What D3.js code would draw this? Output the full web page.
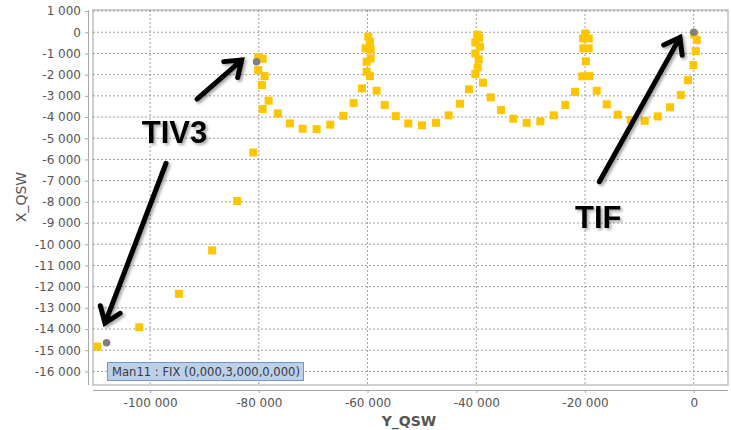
<!DOCTYPE html>
<html>
<head>
<meta charset="utf-8">
<script src="https://cdn.jsdelivr.net/npm/d3@7"></script>
<style>
  body { margin: 0; background: #fff; }
  svg { display: block; }
</style>
</head>
<body>
<svg id="chart" width="731" height="430"></svg>
<script>
// measured points, [Y_QSW, X_QSW]
const squarePoints = [
    [-109700, -14830], [-102000, -13920], [-94700, -12340], [-88580, -10290],
    [-83980, -7960], [-81030, -5670], [-79300, -3620], [-80110, -1780],
    [-80110, -1180], [-79300, -1250], [-78930, -2070], [-79430, -2490],
    [-78200, -3230], [-76500, -3830], [-74280, -4300], [-71940, -4550],
    [-69370, -4570], [-66860, -4360], [-64470, -3940], [-62560, -3340],
    [-61030, -2650], [-60170, -1860], [-60170, -1390], [-60350, -760],
    [-59870, -210], [-59560, -450], [-59430, -810], [-59430, -1230],
    [-59560, -2070], [-58330, -2760], [-56830, -3430], [-54800, -3960],
    [-52510, -4300], [-49990, -4390], [-47410, -4270], [-45080, -3920],
    [-43000, -3370], [-41340, -2690], [-40180, -1970], [-40180, -1000],
    [-40180, -480], [-39820, -120], [-39500, -260], [-39320, -680],
    [-39560, -1280], [-39740, -1660], [-38770, -2380], [-37350, -3070],
    [-35460, -3670], [-33190, -4080], [-30730, -4270], [-28220, -4200],
    [-25760, -3920], [-23630, -3430], [-21840, -2810], [-20500, -2080],
    [-20310, -760], [-20370, -290], [-19950, -60], [-19320, -290],
    [-19320, -760], [-19850, -1370], [-19210, -2070], [-17850, -2760],
    [-16010, -3400], [-13980, -3890], [-11590, -4140], [-9020, -4180],
    [-6620, -3970], [-4360, -3540], [-2390, -2960], [-1050, -2260],
    [-70, -1550], [370, -890], [550, -370], [100, -100]
];
const circlePoints = [[-108000, -14650], [-80410, -1390], [0, 0]];

const xTicks = [-100000, -80000, -60000, -40000, -20000, 0];
const yTicks = d3.range(1000, -16001, -1000);

const legendText = "Man11 : FIX (0,000,3,000,0,000)";

// annotations: label, text anchor point, arrow from / to (data coordinates)
const annotations = [
    { label: "TIV3", at: [-101540, -5240], arrows: [
        [[-91370, -3150], [-83150, -1310]],
        [[-97070, -6180], [-108290, -13720]]
    ] },
    { label: "TIF", at: [-21840, -9250], arrows: [
        [[-17370, -7050], [-2530, -240]]
    ] }
];

const plotLeft = 93, plotRight = 728, plotTop = 10, plotBottom = 385;

const svg = d3.select("#chart");

const x = d3.scaleLinear().domain([-110500, 6300]).range([plotLeft, plotRight]);
const y = d3.scaleLinear().domain([1050, -16640]).range([plotTop, plotBottom]);

const loc = d3.formatLocale({ decimal: ",", thousands: " ", grouping: [3], currency: ["", ""], minus: "-" });
const fmt = loc.format(",d");

const defs = svg.append("defs");
const shadow = defs.append("filter").attr("id", "shadow")
    .attr("x", "-50%").attr("y", "-50%").attr("width", "200%").attr("height", "200%");
shadow.append("feDropShadow")
    .attr("dx", 2).attr("dy", 2).attr("stdDeviation", 1.8)
    .attr("flood-color", "#000").attr("flood-opacity", 0.35);

// plot background + frame
svg.append("rect")
    .attr("x", plotLeft).attr("y", plotTop)
    .attr("width", plotRight - plotLeft).attr("height", plotBottom - plotTop)
    .attr("fill", "#fff").attr("stroke", "#a0a0a0");

// grid lines
svg.append("g").selectAll("line")
    .data(yTicks)
    .join("line")
    .attr("x1", plotLeft).attr("x2", plotRight)
    .attr("y1", d => y(d)).attr("y2", d => y(d))
    .attr("stroke", "#888").attr("stroke-width", 0.8)
    .attr("stroke-dasharray", "2,2");

svg.append("g").selectAll("line")
    .data(xTicks)
    .join("line")
    .attr("x1", d => x(d)).attr("x2", d => x(d))
    .attr("y1", plotTop).attr("y2", plotBottom)
    .attr("stroke", "#888").attr("stroke-width", 0.8)
    .attr("stroke-dasharray", "2,2");

// axes (offset from the plot, like the original)
const yAxis = svg.append("g")
    .attr("transform", `translate(${plotLeft - 4},0)`)
    .call(d3.axisLeft(y).tickValues(yTicks).tickFormat(fmt).tickSize(4).tickSizeOuter(0).tickPadding(4));
const xAxis = svg.append("g")
    .attr("transform", `translate(0,${plotBottom + 5})`)
    .call(d3.axisBottom(x).tickValues(xTicks).tickFormat(fmt).tickSize(3).tickSizeOuter(0).tickPadding(5));

[yAxis, xAxis].forEach(a => {
    a.select(".domain").attr("stroke", "#a8a8a8");
    a.selectAll(".tick line").attr("stroke", "#a8a8a8");
    a.selectAll(".tick text")
        .attr("fill", "#555")
        .style("font-family", "'DejaVu Sans', sans-serif")
        .style("font-size", "12px");
});
yAxis.select(".domain").attr("d", `M-0.5,${plotTop}V${plotBottom}`);
xAxis.select(".domain").attr("d", `M${plotLeft},0.5H${plotRight}`);

// axis titles
svg.append("text")
    .attr("transform", "translate(26,197) rotate(-90)")
    .attr("text-anchor", "middle")
    .attr("fill", "#555")
    .style("font-family", "'DejaVu Sans', sans-serif")
    .style("font-size", "14px")
    .text("X_QSW");

svg.append("text")
    .attr("x", 409).attr("y", 426)
    .attr("text-anchor", "middle")
    .attr("fill", "#555")
    .style("font-family", "'DejaVu Sans', sans-serif")
    .style("font-size", "14px")
    .style("font-weight", "bold")
    .text("Y_QSW");

// data marks
svg.append("g").selectAll("rect")
    .data(squarePoints)
    .join("rect")
    .attr("x", d => x(d[0]) - 4).attr("y", d => y(d[1]) - 4)
    .attr("width", 8).attr("height", 8)
    .attr("fill", "#ffc600");

svg.append("g").selectAll("circle")
    .data(circlePoints)
    .join("circle")
    .attr("cx", d => x(d[0])).attr("cy", d => y(d[1]))
    .attr("r", 3.8)
    .attr("fill", "#808080");

// legend / info box
const lg = svg.append("g");
lg.append("rect")
    .attr("x", 107.5).attr("y", 362.5)
    .attr("width", 196).attr("height", 18)
    .attr("fill", "#bcd0ea").attr("stroke", "#7395cc");
lg.append("text")
    .attr("x", 112).attr("y", 376)
    .attr("fill", "#3a3a3a")
    .attr("textLength", 188)
    .attr("lengthAdjust", "spacingAndGlyphs")
    .style("font-family", "'DejaVu Sans', sans-serif")
    .style("font-size", "12px")
    .text(legendText);

// annotations
const ann = svg.append("g").attr("filter", "url(#shadow)");
annotations.forEach(a => {
    ann.append("text")
        .attr("x", x(a.at[0])).attr("y", y(a.at[1]))
        .attr("fill", "#000")
        .style("font-family", "'Liberation Sans', Arial, sans-serif")
        .style("font-size", "31px")
        .style("font-weight", "bold")
        .text(a.label);
    a.arrows.forEach(([from, to]) => {
        const x1 = x(from[0]), y1 = y(from[1]);
        const x2 = x(to[0]), y2 = y(to[1]);
        const ang = Math.atan2(y2 - y1, x2 - x1);
        const headLen = 18, spread = Math.PI / 5;
        const hx1 = x2 - headLen * Math.cos(ang - spread);
        const hy1 = y2 - headLen * Math.sin(ang - spread);
        const hx2 = x2 - headLen * Math.cos(ang + spread);
        const hy2 = y2 - headLen * Math.sin(ang + spread);
        const p = d3.path();
        p.moveTo(x1, y1); p.lineTo(x2, y2);
        p.moveTo(hx1, hy1); p.lineTo(x2, y2); p.lineTo(hx2, hy2);
        ann.append("path")
            .attr("d", p.toString())
            .attr("fill", "none")
            .attr("stroke", "#000")
            .attr("stroke-width", 5)
            .attr("stroke-linecap", "round")
            .attr("stroke-linejoin", "miter");
    });
});
</script>
</body>
</html>
